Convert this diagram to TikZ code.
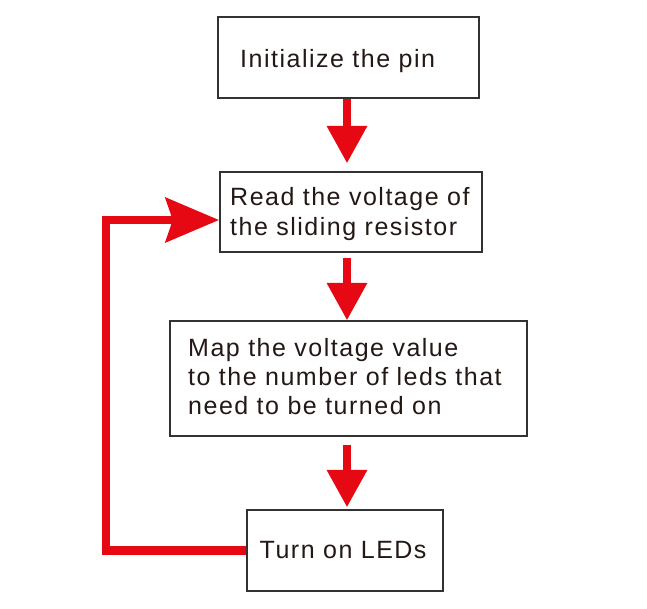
\documentclass[tikz,border=0pt]{standalone}
\usepackage{fontspec}
\setmainfont{Liberation Sans}[LetterSpace=6]
\usetikzlibrary{arrows.meta,calc}
\definecolor{flowred}{RGB}{230,8,18}
\definecolor{ink}{RGB}{35,24,21}
\definecolor{edge}{RGB}{50,50,50}
\tikzset{
  box/.style={draw=edge, line width=1.4pt, inner sep=0pt, fill=white},
  txt/.style={anchor=base west, inner sep=0pt, align=left, text=ink,
    font=\fontsize{25pt}{29.3pt}\selectfont},
  flow/.style={draw=flowred, line width=8pt,
    -{Triangle[length=37pt,width=41pt,fill=flowred,line width=0pt]}},
  back/.style={draw=flowred, line width=8.4pt, line join=miter,
    -{Stealth[length=54pt,width=46pt,inset=8pt,fill=flowred,line width=0pt]}}
}
\begin{document}
\begin{tikzpicture}[x=1pt,y=-1pt]
\useasboundingbox[fill=white] (0,0) rectangle (647,608);
% boxes
\node[box, minimum width=261pt, minimum height=81pt] (b1) at (348.5,57.5) {};
\node[box, minimum width=262pt, minimum height=80pt] (b2) at (351,212) {};
\node[box, minimum width=357pt, minimum height=115pt] (b3) at (348.5,378.5) {};
\node[box, minimum width=196pt, minimum height=81pt] (b4) at (345,550.5) {};
% texts (base anchor = baseline of last line)
\node[txt] (t1) at (240,67) {Initialize the pin};
\node[txt] (t2) at (230,235) {Read the voltage of\\the sliding resistor};
\node[txt] (t3) at (188,414.6) {Map the voltage value\\to the number of leds that\\need to be turned on};
\node[txt] (t4) at (259.5,558.5) {Turn on LEDs};
% down arrows
\draw[flow] ([xshift=-1.5pt,yshift=-0.7pt]b1.south) -- ([xshift=-4pt,yshift=8.5pt]b2.north);
\draw[flow] ([xshift=-4pt,yshift=-5pt]b2.south) -- ([xshift=-1.5pt,yshift=0.5pt]b3.north);
\draw[flow] ([xshift=-1.5pt,yshift=-8pt]b3.south) -- ([xshift=2pt,yshift=2.5pt]b4.north);
% loop back
\coordinate (c1) at (106,550.5);
\draw[back] (b4.west) -- (c1) |- ([yshift=-8pt,xshift=-0.5pt]b2.west);
\end{tikzpicture}
\end{document}
